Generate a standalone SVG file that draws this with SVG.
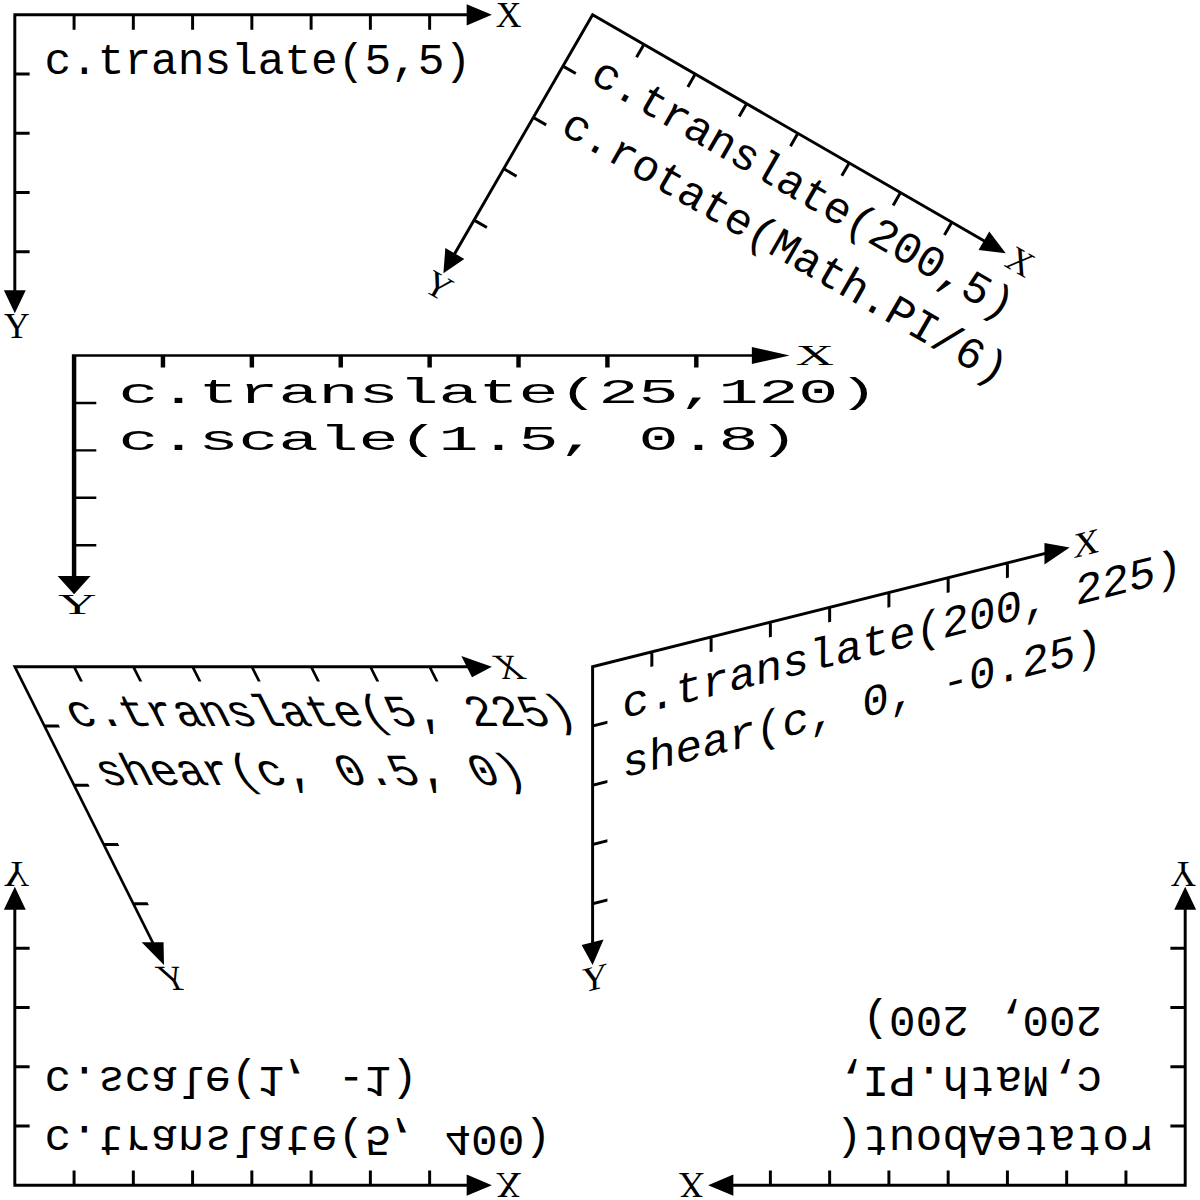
<svg xmlns="http://www.w3.org/2000/svg" width="1200" height="1200" viewBox="0 0 1200 1200">
<style>
.ax{stroke:#000;stroke-width:1;fill:none;stroke-linejoin:miter}
.ah{fill:#000;stroke:none}
.lbl{font-family:"Liberation Serif","Times New Roman",serif;font-size:12px;fill:#000}
.code{font-family:"Liberation Mono","Courier New",monospace;font-size:15px;fill:#000}
</style>
<defs>
<g id="axes">
<path class="ax" d="M153,0H0V93.5M20,0v5M40,0v5M60,0v5M80,0v5M100,0v5M120,0v5M140,0v5M0,20h5M0,40h5M0,60h5M0,80h5"/>
<path class="ah" d="M152.5,-3.6L161,0L152.5,3.6ZM-3.7,93L0,100.7L3.7,93Z"/>
<text class="lbl" x="162.3" y="4">X</text>
<text class="lbl" x="0.7" y="109.2" text-anchor="middle">Y</text>
</g>
</defs>
<rect width="1200" height="1200" fill="#fff"/>
<g transform="scale(2.963)">
<g id="panel-translate" transform="translate(5,5)">
<use href="#axes"/>
<text class="code" x="10" y="20">c.translate(5,5)</text>
</g>
<g id="panel-rotate" transform="translate(200,5) rotate(30)">
<use href="#axes"/>
<text class="code" x="10" y="20">c.translate(200,5)</text>
<text class="code" x="10" y="40">c.rotate(Math.PI/6)</text>
</g>
<g id="panel-scale" transform="translate(25,120) scale(1.5,0.8)">
<use href="#axes"/>
<text class="code" x="10" y="20">c.translate(25,120)</text>
<text class="code" x="10" y="40">c.scale(1.5, 0.8)</text>
</g>
<g id="panel-shear-x" transform="translate(5,225) matrix(1,0,0.5,1,0,0)">
<use href="#axes"/>
<text class="code" x="10" y="20">c.translate(5, 225)</text>
<text class="code" x="10" y="40">shear(c, 0.5, 0)</text>
</g>
<g id="panel-shear-y" transform="translate(200,225) matrix(1,-0.25,0,1,0,0)">
<use href="#axes"/>
<text class="code" x="10" y="20">c.translate(200, 225)</text>
<text class="code" x="10" y="40">shear(c, 0, -0.25)</text>
</g>
<g id="panel-flip" transform="translate(5,400) scale(1,-1)">
<use href="#axes"/>
<text class="code" x="10" y="20">c.translate(5, 400)</text>
<text class="code" x="10" y="40">c.scale(1, -1)</text>
</g>
<g id="panel-rotate-about" transform="translate(200,200) rotate(180) translate(-200,-200)">
<use href="#axes"/>
<text class="code" x="10" y="20">rotateAbout(</text>
<text class="code" x="28" y="40">c,Math.PI,</text>
<text class="code" x="28" y="60">200, 200)</text>
</g>
</g>
</svg>
